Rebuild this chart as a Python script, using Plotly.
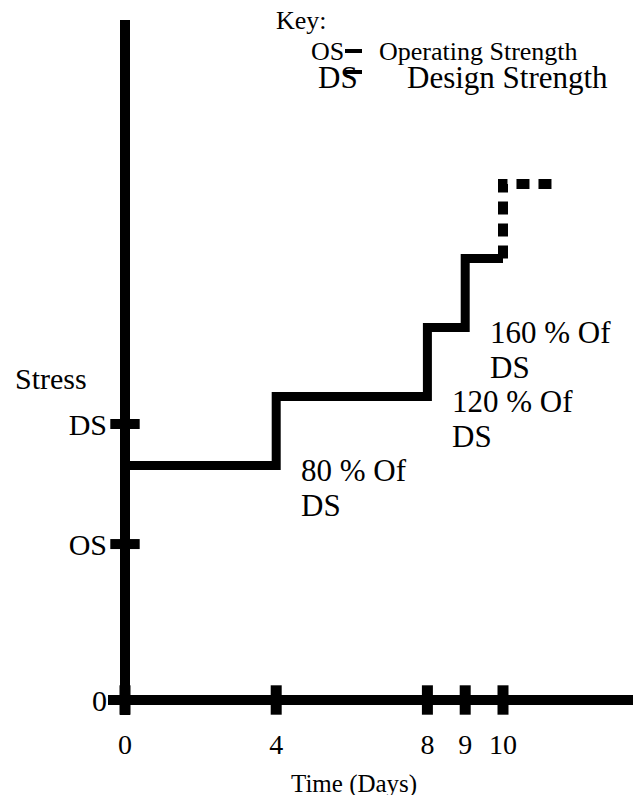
import plotly.graph_objects as go

# ---- data ----
time_days = [0, 4, 8, 9, 10]            # times at which the stress steps up
stress_levels = [85, 110, 135, 160, 187]  # stress level from each time on (% of DS scale)
projected_end = 11.45                    # end of the dashed (projected) last step
x_tick_vals = [0, 4, 8, 9, 10]
x_tick_text = ["0", "4", "8", "9", "10"]
y_tick_vals = [0, 56.5, 100]
y_tick_text = ["0", "OS", "DS"]
step_labels = [("80 % Of", "DS"), ("120 % Of", "DS"), ("160 % Of", "DS")]
step_label_at = [1, 2, 3]                # index of step the label sits beside

FONT = "Liberation Serif"
W, H = 633, 795
L, R, T, B = 108, 0, 20, 80
PW, PH = W - L - R, H - T - B

def px(xp):
    return (xp - L) / PW

def py(yp):
    return (H - B - yp) / PH

fig = go.Figure()

# solid staircase
fig.add_trace(go.Scatter(
    x=time_days[:4] + [time_days[4]],
    y=stress_levels[:4] + [stress_levels[3]],
    mode="lines", line=dict(color="black", width=9, shape="hv"),
    hoverinfo="skip", showlegend=False))

# dashed projected step
fig.add_trace(go.Scatter(
    x=[time_days[4], time_days[4], projected_end],
    y=[stress_levels[3], stress_levels[4], stress_levels[4]],
    mode="lines", line=dict(color="black", width=10, dash="13px,9px"),
    hoverinfo="skip", showlegend=False))

# tick marks on the axes
fig.add_trace(go.Scatter(
    x=x_tick_vals, y=[0] * len(x_tick_vals), mode="markers",
    marker=dict(symbol="line-ns", size=21, line=dict(color="black", width=11)),
    hoverinfo="skip", showlegend=False, cliponaxis=False))
fig.add_trace(go.Scatter(
    x=[0] * (len(y_tick_vals) - 1), y=y_tick_vals[1:], mode="markers",
    marker=dict(symbol="line-ew", size=21, line=dict(color="black", width=10)),
    hoverinfo="skip", showlegend=False, cliponaxis=False))

ann = []
# step labels, placed beside the steps
for (l1, l2), i in zip(step_labels, step_label_at):
    ann.append(dict(x=time_days[i], y=stress_levels[i - 1], xref="x", yref="y",
                    text=l1, showarrow=False, xanchor="left", yanchor="middle",
                    xshift=23, yshift=-(16 - 0.3375 * 31),
                    font=dict(family=FONT, size=31, color="black")))
    ann.append(dict(x=time_days[i], y=stress_levels[i - 1], xref="x", yref="y",
                    text=l2, showarrow=False, xanchor="left", yanchor="middle",
                    xshift=23, yshift=-(51 - 0.3375 * 31),
                    font=dict(family=FONT, size=31, color="black")))

def txt(text, xp, yb, size, anchor="left"):
    ann.append(dict(x=px(xp), y=py(yb - 0.3375 * size), xref="paper", yref="paper",
                    text=text, showarrow=False, xanchor=anchor, yanchor="middle",
                    font=dict(family=FONT, size=size, color="black")))

# key
txt("Key:", 274, 29, 26)
txt("OS", 309, 60, 26)
txt("Operating Strength", 377, 60, 26)
txt("DS", 316, 88, 31)
txt("Design Strength", 405, 88, 31)
# axis titles
txt("Stress", 13, 389, 30)
txt("Time (Days)", 354, 792, 25, anchor="center")

shapes = [
    dict(type="line", xref="paper", yref="paper", x0=px(345), x1=px(362),
         y0=py(51), y1=py(51), line=dict(color="black", width=4)),
    dict(type="line", xref="paper", yref="paper", x0=px(345), x1=px(362),
         y0=py(72), y1=py(72), line=dict(color="black", width=4)),
]

fig.update_layout(
    width=W, height=H, margin=dict(l=L, r=R, t=T, b=B, pad=0, autoexpand=False),
    paper_bgcolor="white", plot_bgcolor="white",
    annotations=ann, shapes=shapes, showlegend=False,
    xaxis=dict(range=[-17 / 37.8, 508 / 37.8], showgrid=False, showline=False,
               zeroline=True, zerolinecolor="black", zerolinewidth=10,
               tickmode="array", tickvals=x_tick_vals, ticktext=x_tick_text,
               ticks="", ticklabelstandoff=10, automargin=False,
               tickfont=dict(family=FONT, size=28, color="black")),
    yaxis=dict(range=[-15 / 2.76, 680 / 2.76], showgrid=False, showline=False,
               zeroline=True, zerolinecolor="black", zerolinewidth=10,
               tickmode="array", tickvals=y_tick_vals, ticktext=y_tick_text,
               ticks="", ticklabelstandoff=0, automargin=False,
               tickfont=dict(family=FONT, size=30, color="black")),
)

fig.write_html("out.html", config={"displayModeBar": False},
               post_script="document.body.style.margin='0';document.body.style.overflow='hidden';")
